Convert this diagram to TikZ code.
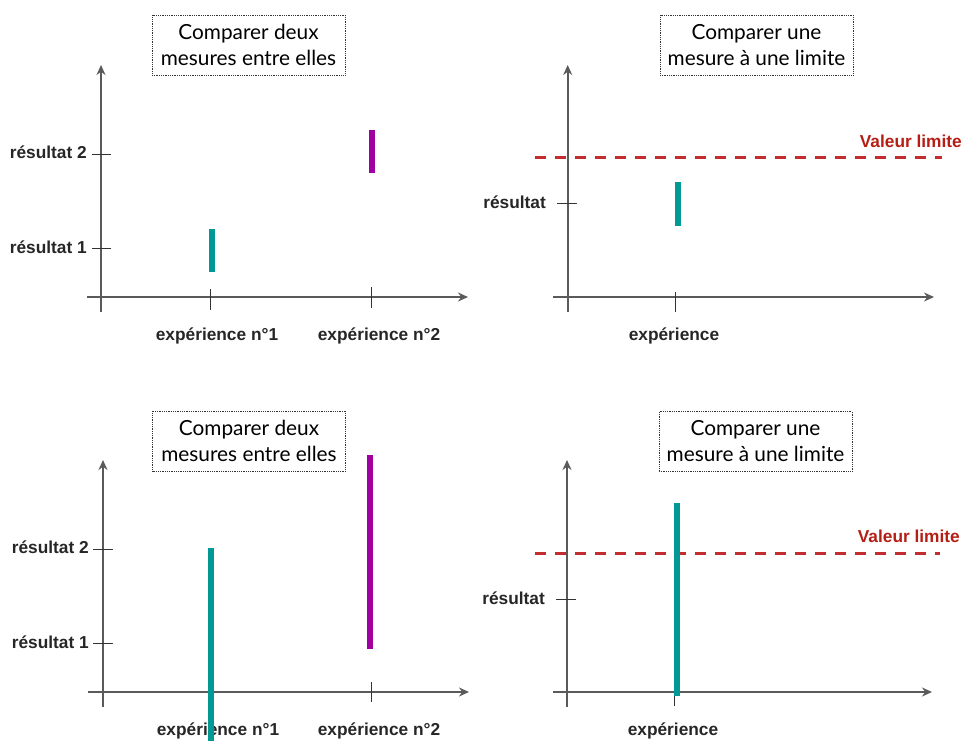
\documentclass[tikz,border=0pt]{standalone}
\usepackage{fontspec}
\setmainfont{Liberation Sans}
\newfontfamily\titlefont{Lato}
\usetikzlibrary{arrows.meta}
\definecolor{axisgray}{RGB}{90,90,90}
\definecolor{teal1}{RGB}{0,153,150}
\definecolor{mag1}{RGB}{160,0,160}
\definecolor{limred}{RGB}{195,45,45}
\definecolor{limtext}{RGB}{180,30,20}
\begin{document}
\begin{tikzpicture}[x=1pt,y=-1pt,
  axis/.style={draw=axisgray,line width=1.6pt,-{Stealth[length=10pt,width=9pt]}},
  tickln/.style={draw=black!80,line width=1pt},
  lbl/.style={font=\fontsize{17.3}{19}\selectfont\bfseries,inner sep=0pt,text=black!85},
  titlebox/.style={draw=black!80,densely dotted,line width=0.8pt,minimum width=193pt,minimum height=60pt,align=center,inner sep=0pt,font=\titlefont\fontsize{20.8}{26}\selectfont},
  bar/.style={line width=5.5pt},
  limline/.style={draw=limred,line width=3pt,dash pattern=on 10.7pt off 9.3pt},
  limlbl/.style={font=\fontsize{17.3}{19}\selectfont\bfseries,text=limtext,inner sep=0pt}]
\useasboundingbox (0,0) rectangle (963,740);

% ---------- top-left ----------
\node[titlebox] (t1) at (248.5,45) {Comparer deux\\mesures entre elles};
\coordinate (a1o) at (101,312); \coordinate (a1t) at (101,65);
\coordinate (a1l) at (87,297); \coordinate (a1r) at (468,297);
\draw[axis] (a1o) -- (a1t);
\draw[axis] (a1l) -- (a1r);
\draw[tickln] (210,289) -- (210,310);
\draw[tickln] (371,287) -- (371,308);
\draw[tickln] (92,154) -- (111,154);
\draw[tickln] (92,248) -- (111,248);
\node[lbl,anchor=east] (r12) at (87,152) {résultat 2};
\node[lbl,anchor=east] (r11) at (87,247) {résultat 1};
\node[lbl] (e11) at (217,336) {expérience n°1};
\node[lbl] (e12) at (379,336) {expérience n°2};
\draw[bar,teal1] (212,229) -- (212,272);
\draw[bar,mag1] (372,130) -- (372,173);

% ---------- top-right ----------
\node[titlebox] (t2) at (756.5,45) {Comparer une\\mesure à une limite};
\coordinate (a2o) at (567.7,312); \coordinate (a2t) at (567.7,65);
\coordinate (a2l) at (553,297); \coordinate (a2r) at (934,297);
\draw[axis] (a2o) -- (a2t);
\draw[axis] (a2l) -- (a2r);
\draw[tickln] (675,292) -- (675,312);
\draw[tickln] (557,203) -- (577,203);
\node[lbl,anchor=east] (r2) at (546,202) {résultat};
\node[lbl] (e2) at (674,336) {expérience};
\draw[limline] (535,157) -- (942,157);
\node[limlbl,anchor=east] (v2) at (962,141) {Valeur limite};
\draw[bar,teal1] (678,182) -- (678,226);

% ---------- bottom-left ----------
\node[titlebox] (t3) at (249,441) {Comparer deux\\mesures entre elles};
\coordinate (a3o) at (103,707); \coordinate (a3t) at (103,460);
\coordinate (a3l) at (88,692); \coordinate (a3r) at (469,692);
\draw[axis] (a3o) -- (a3t);
\draw[axis] (a3l) -- (a3r);
\draw[tickln] (210,682) -- (210,702);
\draw[tickln] (371,682) -- (371,702);
\draw[tickln] (93,549) -- (113,549);
\draw[tickln] (93,643) -- (113,643);
\node[lbl,anchor=east] (r32) at (89,547) {résultat 2};
\node[lbl,anchor=east] (r31) at (89,642) {résultat 1};
\node[lbl] (e31) at (218,731) {expérience n°1};
\node[lbl] (e32) at (379,731) {expérience n°2};
\draw[bar,teal1] (211,548) -- (211,741);
\draw[bar,mag1] (370,455) -- (370,649);

% ---------- bottom-right ----------
\node[titlebox] (t4) at (755.5,441.5) {Comparer une\\mesure à une limite};
\coordinate (a4o) at (567,707); \coordinate (a4t) at (567,460);
\coordinate (a4l) at (553,692); \coordinate (a4r) at (932,692);
\draw[axis] (a4o) -- (a4t);
\draw[axis] (a4l) -- (a4r);
\draw[tickln] (674,682) -- (674,706);
\draw[tickln] (556,599) -- (576,599);
\node[lbl,anchor=east] (r4) at (545,598) {résultat};
\node[lbl] (e4) at (673,731) {expérience};
\draw[limline] (535,553) -- (940,553);
\node[limlbl,anchor=east] (v4) at (960,536) {Valeur limite};
\draw[bar,teal1] (677,503) -- (677,696);
\end{tikzpicture}
\end{document}
